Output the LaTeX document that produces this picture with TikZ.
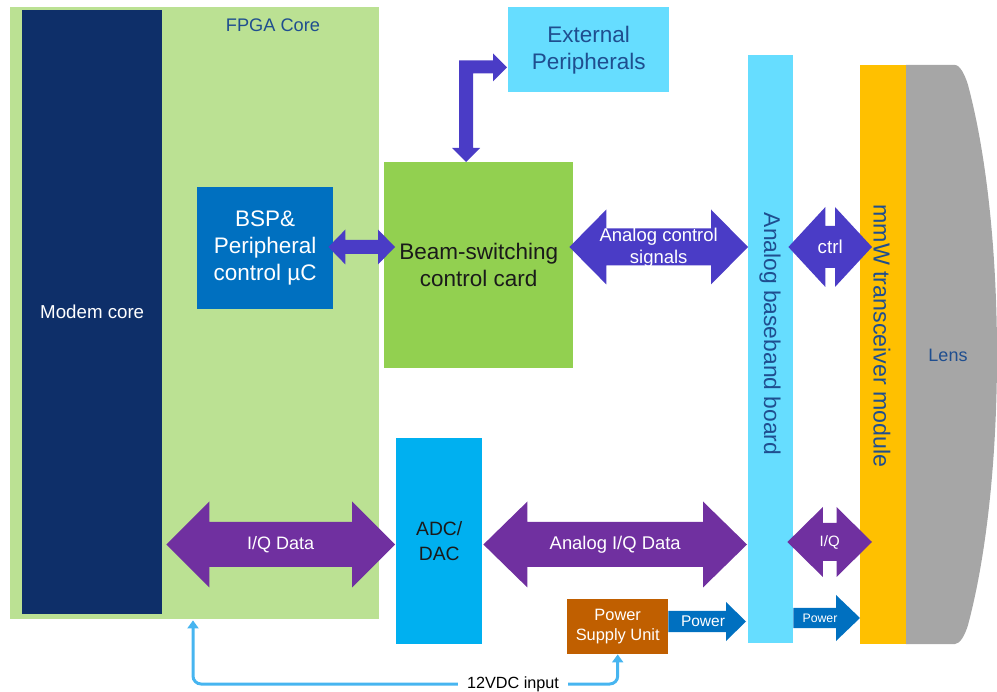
\documentclass[tikz,border=0pt]{standalone}
\usepackage{fontspec}
\setmainfont{Liberation Sans}
\usetikzlibrary{calc,arrows.meta}

\definecolor{fpgagreen}{HTML}{BBE193}
\definecolor{modemnavy}{HTML}{0E2F69}
\definecolor{bspblue}{HTML}{0070C0}
\definecolor{cardgreen}{HTML}{92D050}
\definecolor{lightcyan}{HTML}{66DDFF}
\definecolor{adccyan}{HTML}{00B0F0}
\definecolor{mmwyellow}{HTML}{FFC000}
\definecolor{lensgray}{HTML}{A6A6A6}
\definecolor{psuorange}{HTML}{C05F00}
\definecolor{ctrlviolet}{HTML}{4A3CC6}
\definecolor{iqpurple}{HTML}{7030A0}
\definecolor{powerblue}{HTML}{0070C0}
\definecolor{vdcblue}{HTML}{47B5F0}
\definecolor{labelblue}{HTML}{1F4E8F}
\definecolor{inkblack}{HTML}{1A1A1A}

\newcommand\fsz[2]{\fontsize{#1}{#2}\selectfont}

% double-headed block arrow: style, left tip, right tip, head length, head half-width, shaft half-width
\newcommand\dblarrow[6]{%
  \fill[#1] #2 -- ($#2+(#4,-#5)$) -- ($#2+(#4,-#6)$) -- ($#3+(-#4,-#6)$)
    -- ($#3+(-#4,-#5)$) -- #3 -- ($#3+(-#4,#5)$) -- ($#3+(-#4,#6)$)
    -- ($#2+(#4,#6)$) -- ($#2+(#4,#5)$) -- cycle;}
% single block arrow: style, tail, tip, head length, head half-width, shaft half-width
\newcommand\sglarrow[6]{%
  \fill[#1] ($#2+(0,-#6)$) -- ($#3+(-#4,-#6)$) -- ($#3+(-#4,-#5)$) -- #3
    -- ($#3+(-#4,#5)$) -- ($#3+(-#4,#6)$) -- ($#2+(0,#6)$) -- cycle;}

\begin{document}
\begin{tikzpicture}[x=1pt,y=-1pt,
  box/.style={inner sep=0pt, anchor=north west, align=center},
  arrowtext/.style={text=white, align=center, inner sep=0pt},
  vdc/.style={draw=vdcblue, line width=3pt, rounded corners=8pt,
    -{Triangle[width=11pt,length=8pt]}}]
\useasboundingbox (0,0) rectangle (997,692);

% FPGA core and what sits on it
\node[box, fill=fpgagreen, minimum width=369pt, minimum height=612pt] (fpga) at (10,7) {};
\node[text=labelblue, font=\fsz{18.2}{22}] (fpgalabel) at (273,25) {FPGA Core};
\node[box, fill=modemnavy, minimum width=140pt, minimum height=604pt,
  text=white, font=\fsz{18.7}{22}] (modem) at (22,10) {Modem core};
\node[box, fill=bspblue, minimum width=136pt, minimum height=122pt,
  text=white, font=\fsz{22.5}{27}] (bsp) at (197,187) {BSP\&\\Peripheral\\control µC};

% boards outside the FPGA
\node[box, fill=cardgreen, minimum width=189pt, minimum height=206pt,
  text=inkblack, font=\fsz{22.5}{27}] (beam) at (384,162) {Beam-switching\\control card};
\node[box, fill=lightcyan, minimum width=161pt, minimum height=85pt,
  text=labelblue, font=\fsz{22.5}{27}] (ext) at (508,7) {External\\Peripherals};
\node[box, fill=adccyan, minimum width=86pt, minimum height=206pt,
  text=inkblack, font=\fsz{19.3}{25}] (adc) at (396,438) {ADC/\\DAC};
\node[box, fill=lightcyan, minimum width=45pt, minimum height=588pt] (abb) at (748,55) {};
\node[rotate=-90, text=labelblue, font=\fsz{22.8}{27}] (abblabel) at (770,334) {Analog baseband board};
\node[box, fill=mmwyellow, minimum width=46pt, minimum height=579pt] (mmw) at (860,65) {};
\node[rotate=-90, text=labelblue, font=\fsz{23.2}{27}] (mmwlabel) at (882,336) {mmW transceiver module};
\node[box, fill=psuorange, minimum width=101pt, minimum height=55pt,
  text=white, font=\fsz{16.4}{20}] (psu) at (567,599) {Power\\Supply Unit};

% lens
\fill[lensgray] (906,65) -- (955,65) .. controls (960,65) and (965,75) .. (968,85)
  .. controls (988,160) and (997,260) .. (997,355)
  .. controls (997,450) and (988,550) .. (968,625)
  .. controls (965,635) and (960,644) .. (955,644) -- (906,644) -- cycle;
\node[text=labelblue, font=\fsz{18}{22}] (lens) at (948,355) {Lens};

% rows of the control and data links
\coordinate (rowctl) at (0,247);
\coordinate (rowiq) at (0,544.5);

% BSP <-> beam-switching card
\coordinate (bspL) at ($(bsp.east |- rowctl)+(-5,0)$);
\coordinate (bspR) at ($(beam.west |- rowctl)+(11,0)$);
\dblarrow{ctrlviolet}{(bspL)}{(bspR)}{17}{17.5}{7}

% beam-switching card <-> analog baseband board
\coordinate (acsL) at ($(beam.east |- rowctl)+(-4,0)$);
\coordinate (acsR) at (abb.west |- rowctl);
\dblarrow{ctrlviolet}{(acsL)}{(acsR)}{37}{37.5}{18.5}
\node[arrowtext, font=\fsz{18.5}{22}] (acstext) at ($(acsL)!0.5!(acsR)+(0,1)$) {Analog control\\signals};

% analog baseband board <-> mmW module, control
\coordinate (ctlL) at ($(abb.east |- rowctl)+(-5,0)$);
\coordinate (ctlR) at ($(mmw.west |- rowctl)+(12,0)$);
\dblarrow{ctrlviolet}{(ctlL)}{(ctlR)}{37}{40}{21}
\node[arrowtext, font=\fsz{18.7}{22}] (ctltext) at ($(ctlL)!0.5!(ctlR)$) {ctrl};

% beam-switching card <-> external peripherals (elbow)
\coordinate (elbowTip) at ($(beam.north west)+(82,0)$);
\coordinate (elbowEnd) at ($(ext.south west)+(-1,-25)$);
\coordinate (elbowCorner) at (elbowTip |- elbowEnd);
\fill[ctrlviolet] (elbowTip) -- ($(elbowTip)+(14,-14)$) -- ($(elbowTip)+(7,-14)$)
  -- ($(elbowCorner)+(7,6)$) -- ($(elbowEnd)+(-14,6)$) -- ($(elbowEnd)+(-14,14)$)
  -- (elbowEnd) -- ($(elbowEnd)+(-14,-14)$) -- ($(elbowEnd)+(-14,-7)$)
  -- ($(elbowCorner)+(-7,-7)$) -- ($(elbowTip)+(-7,-14)$) -- ($(elbowTip)+(-14,-14)$) -- cycle;

% modem core <-> ADC/DAC
\coordinate (iqL) at ($(modem.east |- rowiq)+(4,0)$);
\coordinate (iqR) at ($(adc.west |- rowiq)+(-1,0)$);
\dblarrow{iqpurple}{(iqL)}{(iqR)}{43}{43}{22.5}
\node[arrowtext, font=\fsz{18}{22}] (iqtext) at ($(iqL)!0.5!(iqR)$) {I/Q Data};

% ADC/DAC <-> analog baseband board
\coordinate (aiqL) at ($(adc.east |- rowiq)+(1,0)$);
\coordinate (aiqR) at ($(abb.west |- rowiq)+(-1,0)$);
\dblarrow{iqpurple}{(aiqL)}{(aiqR)}{44}{43}{22.5}
\node[arrowtext, font=\fsz{18.4}{22}] (aiqtext) at ($(aiqL)!0.5!(aiqR)$) {Analog I/Q Data};

% analog baseband board <-> mmW module, I/Q
\coordinate (siqL) at ($(abb.east |- 0,542)+(-6,0)$);
\coordinate (siqR) at ($(mmw.west |- 0,542)+(12,0)$);
\dblarrow{iqpurple}{(siqL)}{(siqR)}{35.5}{35}{19}
\node[arrowtext, font=\fsz{15}{18}] (siqtext) at ($(siqL)!0.5!(siqR)$) {I/Q};

% power feeds
\coordinate (pw1L) at (psu.east |- 0,621.5);
\coordinate (pw1R) at ($(abb.west |- 0,621.5)+(-2,0)$);
\sglarrow{powerblue}{(pw1L)}{(pw1R)}{20}{19.5}{10.5}
\node[arrowtext, font=\fsz{15.5}{18}] (pw1text) at (703,621) {Power};
\coordinate (pw2L) at (abb.east |- 0,618);
\coordinate (pw2R) at (mmw.west |- 0,618);
\sglarrow{powerblue}{(pw2L)}{(pw2R)}{24}{23}{10}
\node[arrowtext, font=\fsz{12.3}{15}] (pw2text) at (820,618) {Power};

% 12 V DC supply input
\node[text=black, font=\fsz{16.2}{20}, inner xsep=9pt, inner ysep=2pt] (vdcin) at (513,684) {12VDC input};
\draw[vdc] (vdcin.west) -| ($(fpga.south west)+(183,1)$);
\draw[vdc] (vdcin.east) -| (psu.south);
\end{tikzpicture}
\end{document}
